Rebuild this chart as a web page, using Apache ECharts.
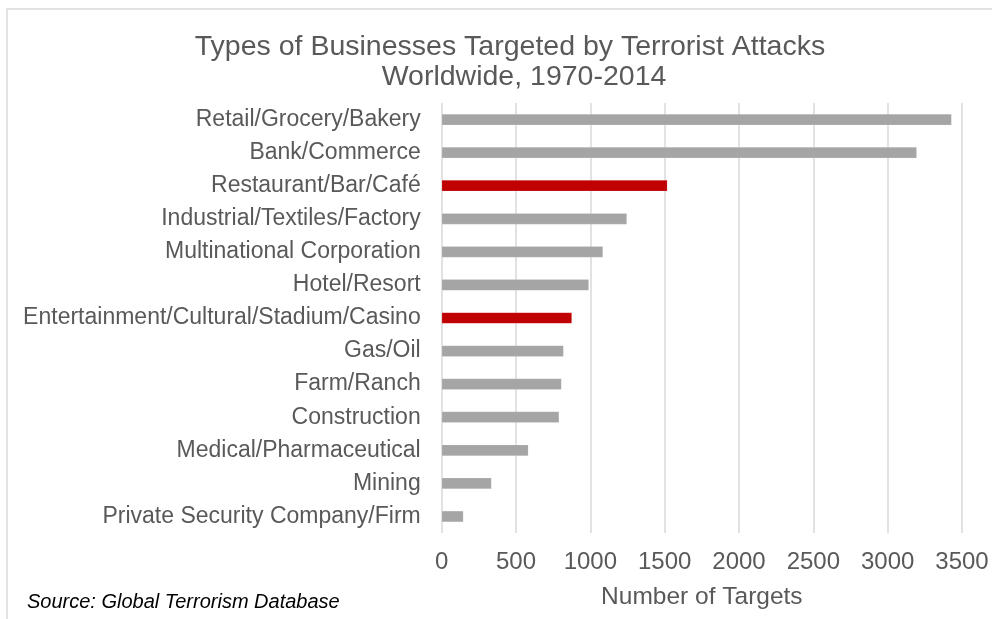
<!DOCTYPE html>
<html>
<head>
<meta charset="utf-8">
<script src="https://cdn.jsdelivr.net/npm/echarts@6/dist/echarts.min.js"></script>
<style>
  html, body { margin: 0; padding: 0; background: #fff; }
  #chart { width: 992px; height: 619px; }
</style>
</head>
<body>
<div id="chart"></div>
<script>
var categories = ['Retail/Grocery/Bakery', 'Bank/Commerce', 'Restaurant/Bar/Café', 'Industrial/Textiles/Factory',
  'Multinational Corporation', 'Hotel/Resort', 'Entertainment/Cultural/Stadium/Casino', 'Gas/Oil',
  'Farm/Ranch', 'Construction', 'Medical/Pharmaceutical', 'Mining', 'Private Security Company/Firm'];
var targets = [3430, 3196, 1518, 1246, 1085, 990, 876, 820, 806, 790, 583, 335, 146];
var highlighted = ['Restaurant/Bar/Café', 'Entertainment/Cultural/Stadium/Casino'];
var xTicks = [0, 500, 1000, 1500, 2000, 2500, 3000, 3500];

var chart = echarts.init(document.getElementById('chart'));

var barData = [];
for (var i = 0; i < categories.length; i++) {
  barData.push({
    value: targets[i],
    itemStyle: { color: highlighted.indexOf(categories[i]) >= 0 ? '#c00000' : '#a5a5a5' }
  });
}

var font = '"Liberation Sans", Arial, sans-serif';
var grey = '#595959';

var option = {
  animation: false,
  title: [{
    text: 'Types of Businesses Targeted by Terrorist Attacks',
    left: 505, top: 28, textAlign: 'center',
    textStyle: { color: grey, fontSize: 28.5, fontWeight: 'normal', fontFamily: font, lineHeight: 29 }
  }, {
    text: 'Worldwide, 1970-2014',
    left: 519, top: 58, textAlign: 'center',
    textStyle: { color: grey, fontSize: 28.5, fontWeight: 'normal', fontFamily: font, lineHeight: 29 }
  }],
  graphic: [
    { type: 'rect', silent: true, shape: { x: 7, y: 9, width: 1100, height: 700 },
      style: { fill: 'none', stroke: '#d9d9d9', lineWidth: 1.5 } },
    { type: 'text', left: 27, top: 592,
      style: { text: 'Source: Global Terrorism Database', fill: '#000', font: 'italic 20px ' + font } }
  ],
  grid: { left: 441.7, right: 30, top: 103, bottom: 86 },
  xAxis: {
    type: 'value',
    min: xTicks[0],
    max: xTicks[xTicks.length - 1],
    interval: xTicks[1] - xTicks[0],
    name: 'Number of Targets',
    nameLocation: 'middle',
    nameGap: 52,
    nameTextStyle: { color: grey, fontSize: 24.5, fontFamily: font },
    axisLine: { show: false },
    axisTick: { show: false },
    axisLabel: {
      color: grey, fontSize: 24, fontFamily: font, margin: 17,
      formatter: function (v) { return String(v); }
    },
    splitLine: { show: true, lineStyle: { color: '#d9d9d9', width: 1.5 } }
  },
  yAxis: {
    type: 'category',
    inverse: true,
    data: categories,
    axisLine: { show: false },
    axisTick: { show: false },
    axisLabel: { color: grey, fontSize: 23, fontFamily: font, margin: 21 }
  },
  series: [{
    type: 'bar',
    data: barData,
    barWidth: '34%',
    itemStyle: { borderColor: 'rgba(255,255,255,0.3)', borderWidth: 0.5 }
  }]
};

chart.setOption(option);
</script>
</body>
</html>
